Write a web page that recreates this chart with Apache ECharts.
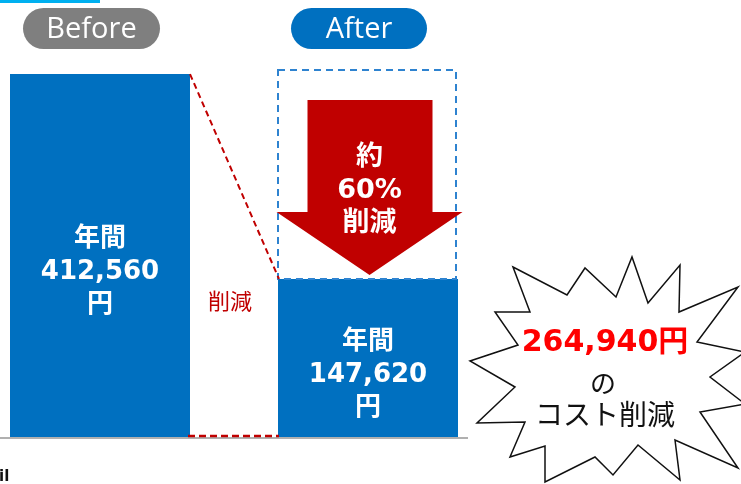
<!DOCTYPE html>
<html>
<head>
<meta charset="utf-8">
<script src="https://cdn.jsdelivr.net/npm/echarts@6/dist/echarts.min.js"></script>
<style>
html, body { margin: 0; padding: 0; background: #fff; }
#main { width: 741px; height: 484px; }
</style>
</head>
<body>
<div id="main"></div>
<script>
// 区分（中央は削減の区間）
var categories = ['Before', '削減', 'After'];
// 図に描かれた棒の高さ
var barHeights = [412560, null, 179600];
// 年間コスト（ラベル表示用）
var annualCost = [412560, null, 147620];
var savedAmount = 264940;
var savedRate = 60;

var BLUE = '#0070c0';
var RED = '#c00000';
var JP = '"DejaVu Sans", "Noto Sans CJK JP", sans-serif';

function fmt(n) {
    return String(n).replace(/\B(?=(\d{3})+(?!\d))/g, ',');
}

// 削減の矢印・点線枠・補助線
function renderDecor(params, api) {
    var b0 = api.coord([0, barHeights[0]]);
    var b2 = api.coord([2, barHeights[2]]);
    var base = api.coord([0, 0])[1];
    var half = 90;
    var boxTop = b0[1] - 4;
    var cx = b2[0] + 1.5;
    var shaftTop = boxTop + 30;
    var headY = boxTop + 142;
    var tipY = b2[1] - 4;
    var mid = api.coord([1, 0]);
    return {
        type: 'group',
        children: [
            {
                type: 'rect',
                shape: { x: b2[0] - half, y: boxTop, width: 2 * half - 2, height: b2[1] - boxTop },
                style: { fill: null, stroke: '#2e83d0', lineWidth: 2, lineDash: [7, 5] }
            },
            {
                type: 'polygon',
                shape: {
                    points: [
                        [cx - 62, shaftTop], [cx + 63, shaftTop], [cx + 63, headY], [cx + 93, headY],
                        [cx, tipY], [cx - 93, headY], [cx - 62, headY]
                    ]
                },
                style: { fill: RED }
            },
            {
                type: 'text',
                x: cx, y: boxTop + 121,
                style: {
                    text: '約\n' + savedRate + '%\n削減',
                    fill: '#fff', font: 'bold 27px ' + JP, lineHeight: 33,
                    align: 'center', verticalAlign: 'middle',
                    textAlign: 'center', textVerticalAlign: 'middle'
                }
            },
            {
                type: 'line',
                shape: { x1: b0[0] + half, y1: b0[1], x2: b2[0] - half + 1, y2: b2[1] },
                style: { stroke: RED, lineWidth: 2, lineDash: [6, 4] }
            },
            {
                type: 'line',
                shape: { x1: b0[0] + half - 2, y1: base - 1, x2: b2[0] - half + 1, y2: base - 1 },
                style: { stroke: RED, lineWidth: 2.5, lineDash: [7, 4] }
            },
            {
                type: 'text',
                x: mid[0] - 4, y: b2[1] + 22,
                style: {
                    text: categories[1], fill: RED, font: '22px "Noto Sans CJK JP", sans-serif',
                    align: 'center', verticalAlign: 'middle',
                    textAlign: 'center', textVerticalAlign: 'middle'
                }
            }
        ]
    };
}

var starPoints = [
    [513, 267], [567, 295], [585, 268], [616, 297], [632, 257], [648, 303], [680, 265], [679, 312],
    [738, 287], [697, 342], [745, 352], [710, 377], [745, 404], [700, 412], [738, 468], [675, 440],
    [680, 480], [638, 445], [613, 475], [595, 457], [545, 482], [545, 446], [510, 457], [525, 422],
    [477, 423], [515, 387], [470, 361], [518, 345], [495, 312], [530, 312]
];

function pill(x, y, w, h, fill, text) {
    return {
        type: 'group',
        children: [
            { type: 'rect', shape: { x: x, y: y, width: w, height: h, r: h / 2 }, style: { fill: fill } },
            {
                type: 'text', x: x + w / 2, y: y + h / 2 + 1,
                style: {
                    text: text, fill: '#fff', font: '29px "Open Sans", sans-serif',
                    align: 'center', verticalAlign: 'middle',
                    textAlign: 'center', textVerticalAlign: 'middle'
                }
            }
        ]
    };
}

function centerText(x, y, text, fill, font) {
    return {
        type: 'text', x: x, y: y, z: 10,
        style: {
            text: text, fill: fill, font: font,
            align: 'center', verticalAlign: 'middle',
            textAlign: 'center', textVerticalAlign: 'middle'
        }
    };
}

var chart = echarts.init(document.getElementById('main'));
chart.setOption({
    animation: false,
    grid: { left: 33, right: 306, top: 67.5, bottom: 47 },
    xAxis: {
        type: 'category',
        data: categories,
        axisLine: { show: false },
        axisTick: { show: false },
        axisLabel: { show: false }
    },
    yAxis: { type: 'value', min: 0, max: 420000, show: false },
    graphic: {
        elements: [
            { type: 'rect', shape: { x: 0, y: 0, width: 100, height: 3 }, style: { fill: '#00b0f0' } },
            pill(23, 8, 137, 41, '#7f7f7f', categories[0]),
            pill(291, 8, 136, 41, BLUE, categories[2]),
            { type: 'line', shape: { x1: 0, y1: 438, x2: 468, y2: 438 }, style: { stroke: '#b0b0b0', lineWidth: 2 } },
            { type: 'polygon', z: 5, shape: { points: starPoints }, style: { fill: '#fff', stroke: '#111', lineWidth: 1.5 } },
            centerText(605, 343, fmt(savedAmount) + '円', '#ff0000', 'bold 30px ' + JP),
            centerText(603, 383, 'の', '#111', '26px "Noto Sans CJK JP", sans-serif'),
            centerText(605, 414, 'コスト削減', '#111', '28px "Noto Sans CJK JP", sans-serif'),
            { type: 'text', x: -1, y: 470, style: { text: 'il', fill: '#111', font: 'bold 15px "DejaVu Sans", sans-serif' } }
        ]
    },
    series: [
        {
            type: 'bar',
            barWidth: 180,
            clip: false,
            data: barHeights.map(function (v) { return v == null ? '-' : v; }),
            itemStyle: { color: BLUE },
            label: {
                show: true,
                position: 'inside',
                offset: [0, 17],
                color: '#fff',
                fontWeight: 'bold',
                fontSize: 26,
                fontFamily: JP,
                lineHeight: 33,
                formatter: function (p) {
                    return '年間\n' + fmt(annualCost[p.dataIndex]) + '\n円';
                }
            }
        },
        {
            type: 'custom',
            renderItem: renderDecor,
            data: [[0, 0]],
            clip: false,
            silent: true,
            z: 3
        }
    ]
});
</script>
</body>
</html>
